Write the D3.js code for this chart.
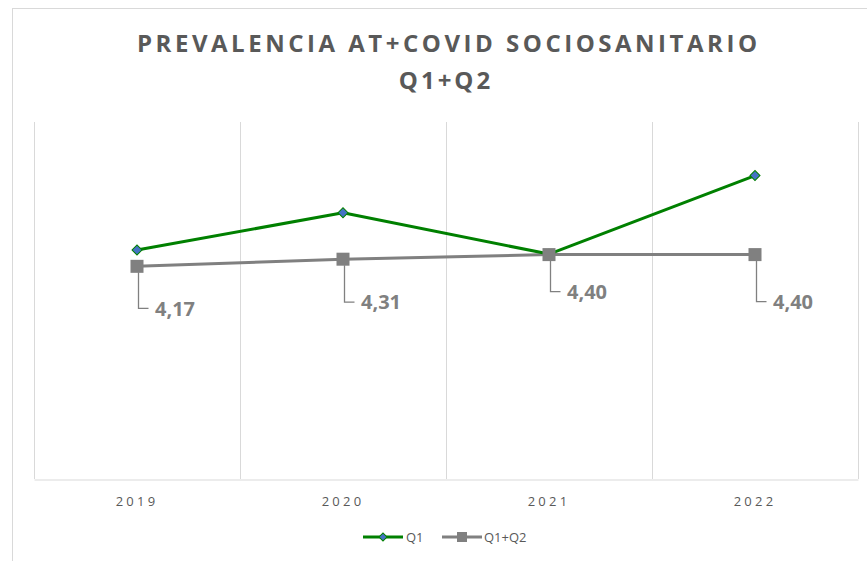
<!DOCTYPE html>
<html lang="es">
<head>
  <meta charset="UTF-8">
  <title>Prevalencia AT+COVID Sociosanitario</title>
  <style>
  body {
    margin: 0;
    background: #fff;
  }
  svg {
    display: block;
    font-family: "Open Sans", sans-serif;
  }
  </style>
</head>
<body>
  <svg></svg>

  <script src="https://d3js.org/d3.v7.min.js"></script>
  <script>
  // data
  var years = ["2019", "2020", "2021", "2022"];
  var q1 = [4.49, 5.22, 4.41, 5.95];
  var q1q2 = [4.17, 4.31, 4.40, 4.40];
  var q1q2Labels = ["4,17", "4,31", "4,40", "4,40"];
  var seriesNames = ["Q1", "Q1+Q2"];

  // how far below each point its label sits (layout only)
  var labelDrop = [42, 43, 37, 47];

  var width = 867;
  var height = 561;
  var plot = { left: 34, right: 858, top: 122, bottom: 479 };
  var gridColor = "#d9d9d9";
  var green = "#008000";
  var gray = "#808080";
  var textColor = "#595959";

  var svg = d3.select("svg")
      .attr("width", width)
      .attr("height", height);

  // outer chart border (cut off on the right and bottom)
  svg.append("rect")
      .attr("x", 12.5)
      .attr("y", 8.5)
      .attr("width", 900)
      .attr("height", 600)
      .attr("fill", "#fff")
      .attr("stroke", gridColor);

  var xScale = d3.scaleBand()
      .domain(years)
      .range([plot.left, plot.right]);
  var yScale = d3.scaleLinear()
      .domain([0, 7])
      .range([plot.bottom, plot.top]);
  var cx = d => xScale(d) + xScale.bandwidth() / 2;

  // vertical gridlines at category edges
  var edges = years.map(d => xScale(d)).concat([plot.right]);
  svg.append("g")
    .selectAll("line")
    .data(edges)
    .enter()
    .append("line")
      .attr("x1", d => Math.round(d) + 0.5)
      .attr("x2", d => Math.round(d) + 0.5)
      .attr("y1", plot.top)
      .attr("y2", plot.bottom)
      .attr("stroke", gridColor);

  // x axis
  var xAxis = svg.append("g")
      .attr("transform", "translate(0," + (plot.bottom + 0.5) + ")")
      .call(d3.axisBottom(xScale).tickSize(0).tickPadding(17));
  xAxis.select(".domain").attr("stroke", gridColor);
  xAxis.selectAll("text")
      .attr("fill", textColor)
      .attr("font-size", 13)
      .attr("font-family", "Open Sans, sans-serif")
      .attr("letter-spacing", "3.2px");

  // title
  var title = svg.append("g")
      .attr("fill", textColor)
      .attr("font-weight", "bold")
      .attr("font-size", 24);
  title.append("text")
      .attr("x", 137)
      .attr("y", 52)
      .attr("textLength", 620)
      .attr("lengthAdjust", "spacing")
      .text("PREVALENCIA  AT+COVID  SOCIOSANITARIO");
  title.append("text")
      .attr("x", 446)
      .attr("y", 89)
      .attr("text-anchor", "middle")
      .attr("letter-spacing", "3px")
      .text("Q1+Q2");

  var line = d3.line()
      .x((d, i) => cx(years[i]))
      .y(d => yScale(d));

  // Q1+Q2 line first, Q1 on top, then Q1+Q2 markers
  svg.append("path")
      .datum(q1q2)
      .attr("d", line)
      .attr("fill", "none")
      .attr("stroke", gray)
      .attr("stroke-width", 3);

  svg.append("path")
      .datum(q1)
      .attr("d", line)
      .attr("fill", "none")
      .attr("stroke", green)
      .attr("stroke-width", 3)
      .attr("stroke-linejoin", "round");

  var diamond = d3.symbol().type(d3.symbolSquare).size(50);
  svg.append("g")
    .selectAll("path")
    .data(q1)
    .enter()
    .append("path")
      .attr("d", diamond)
      .attr("transform", (d, i) => "translate(" + cx(years[i]) + "," + yScale(d) + ") rotate(45)")
      .attr("fill", "#4472c4")
      .attr("stroke", green)
      .attr("stroke-width", 1);

  svg.append("g")
    .selectAll("rect")
    .data(q1q2)
    .enter()
    .append("rect")
      .attr("x", (d, i) => cx(years[i]) - 6.5)
      .attr("y", d => yScale(d) - 6.5)
      .attr("width", 13)
      .attr("height", 13)
      .attr("fill", gray);

  // data labels with leader lines
  var labels = svg.append("g")
    .selectAll("g")
    .data(q1q2)
    .enter()
    .append("g");
  labels.append("path")
      .attr("d", (d, i) => {
        var x = cx(years[i]) + 1.5;
        var y0 = yScale(d) + 6;
        var y1 = yScale(d) + labelDrop[i];
        return "M" + x + "," + y0 + "V" + y1 + "H" + (x + 10);
      })
      .attr("fill", "none")
      .attr("stroke", gray)
      .attr("stroke-width", 1.3);
  labels.append("text")
      .attr("x", (d, i) => cx(years[i]) + 18)
      .attr("y", (d, i) => yScale(d) + labelDrop[i])
      .attr("dy", "0.36em")
      .attr("fill", gray)
      .attr("font-weight", "bold")
      .attr("font-size", 20)
      .text((d, i) => q1q2Labels[i]);

  // legend
  var legend = svg.append("g")
      .attr("transform", "translate(363,537)");
  var q1Key = legend.append("g");
  q1Key.append("line")
      .attr("x1", 0).attr("x2", 40)
      .attr("stroke", green).attr("stroke-width", 3);
  q1Key.append("path")
      .attr("d", d3.symbol().type(d3.symbolSquare).size(32))
      .attr("transform", "translate(20,0) rotate(45)")
      .attr("fill", "#4472c4")
      .attr("stroke", green);
  q1Key.append("text")
      .attr("x", 43).attr("dy", "0.35em")
      .attr("fill", textColor).attr("font-size", 13)
      .text(seriesNames[0]);
  var q2Key = legend.append("g")
      .attr("transform", "translate(79,0)");
  q2Key.append("line")
      .attr("x1", 0).attr("x2", 40)
      .attr("stroke", gray).attr("stroke-width", 3);
  q2Key.append("rect")
      .attr("x", 15).attr("y", -5)
      .attr("width", 10).attr("height", 10)
      .attr("fill", gray);
  q2Key.append("text")
      .attr("x", 42).attr("dy", "0.35em")
      .attr("fill", textColor).attr("font-size", 13)
      .text(seriesNames[1]);
  </script>
</body>
</html>
